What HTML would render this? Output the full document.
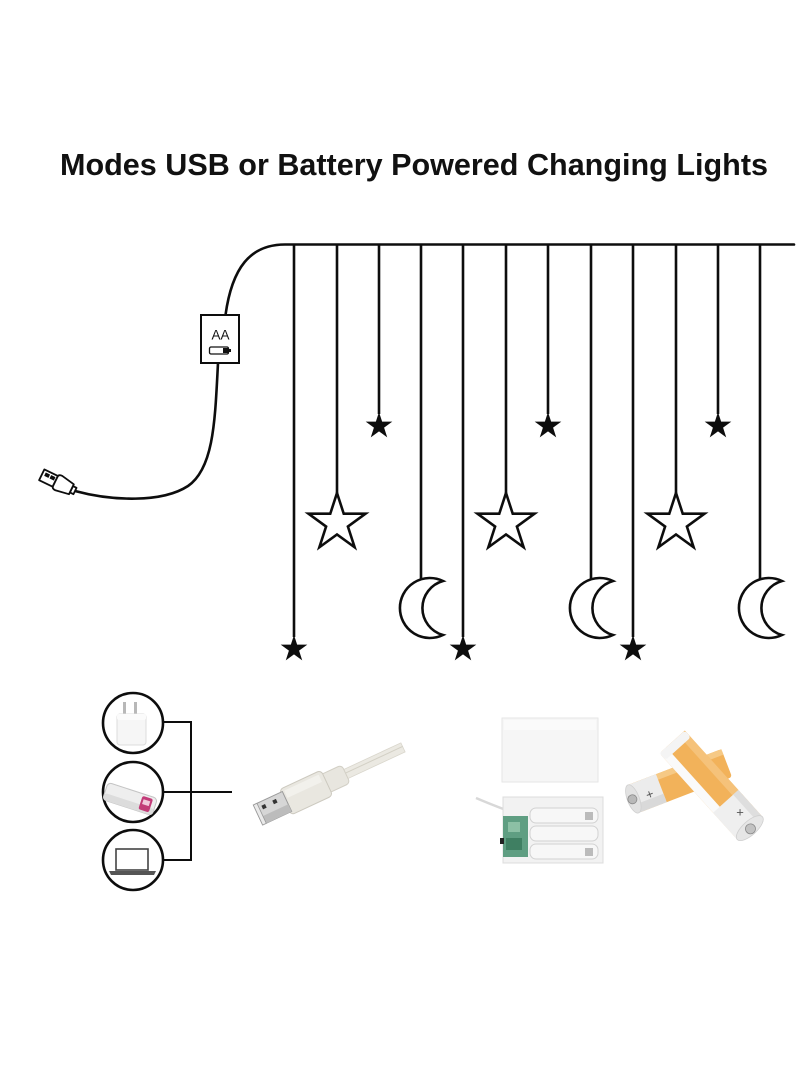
<!DOCTYPE html>
<html>
<head>
<meta charset="utf-8">
<style>
  html,body{margin:0;padding:0;background:#fff;}
  svg{display:block;}
</style>
</head>
<body>
<svg width="800" height="1091" viewBox="0 0 800 1091" xmlns="http://www.w3.org/2000/svg">
  <rect width="800" height="1091" fill="#fff"/>

  <!-- Title -->
  <text x="60" y="175" font-family="'Liberation Sans', sans-serif" font-weight="bold" font-size="31" fill="#111" textLength="708" lengthAdjust="spacingAndGlyphs">Modes USB or Battery Powered Changing Lights</text>

  <!-- Main wire -->
  <g fill="none" stroke="#0d0d0d" stroke-width="2.6" stroke-linecap="round">
    <path d="M794 244.5 L285 244.5 C250 244.5 232 268 225.5 315"/>
    <path d="M218 363 C215 420 214 468 188 486 C162 503 112 501 75 491"/>
  </g>

  <!-- AA box -->
  <rect x="201" y="315" width="38" height="48" fill="#fff" stroke="#0d0d0d" stroke-width="2"/>
  <text x="220.5" y="339.5" text-anchor="middle" font-family="'Liberation Sans', sans-serif" font-size="13.5" fill="#111">AA</text>
  <rect x="209.5" y="347" width="19" height="7" rx="1.5" fill="#fff" stroke="#111" stroke-width="1.3"/>
  <rect x="223" y="348" width="5" height="5" fill="#111"/>
  <rect x="228.5" y="349" width="2.5" height="3" fill="#111"/>

  <!-- USB plug icon at wire end -->
  <g transform="rotate(26 75 491)" fill="#fff" stroke="#0d0d0d" stroke-width="1.8" stroke-linejoin="round">
    <rect x="71" y="487.5" width="4" height="7"/>
    <path d="M71 485.5 L57 483 Q53 483 53 486 L53 496 Q53 499 57 499 L71 496.5 Z"/>
    <rect x="38" y="485" width="15" height="12"/>
    <rect x="41" y="487.5" width="4" height="3" fill="#0d0d0d" stroke-width="0.8"/>
    <rect x="47" y="487.5" width="4" height="3" fill="#0d0d0d" stroke-width="0.8"/>
  </g>

  <!-- Hanging strings -->
  <g stroke="#0d0d0d" stroke-width="2.6" fill="none">
    <line x1="294" y1="244" x2="294" y2="637"/>
    <line x1="337" y1="244" x2="337" y2="494"/>
    <line x1="379" y1="244" x2="379" y2="414"/>
    <line x1="421" y1="244" x2="421" y2="580"/>
    <line x1="463" y1="244" x2="463" y2="637"/>
    <line x1="506" y1="244" x2="506" y2="494"/>
    <line x1="548" y1="244" x2="548" y2="414"/>
    <line x1="591" y1="244" x2="591" y2="580"/>
    <line x1="633" y1="244" x2="633" y2="637"/>
    <line x1="676" y1="244" x2="676" y2="494"/>
    <line x1="718" y1="244" x2="718" y2="414"/>
    <line x1="760" y1="244" x2="760" y2="580"/>
  </g>

  <!-- Filled stars (small) -->
  <g fill="#0d0d0d">
    <polygon transform="translate(294 649)" points="0,-14 3.14,-4.33 13.31,-4.33 5.09,1.65 8.23,11.33 0,5.35 -8.23,11.33 -5.09,1.65 -13.31,-4.33 -3.14,-4.33"/>
    <polygon transform="translate(463 649)" points="0,-14 3.14,-4.33 13.31,-4.33 5.09,1.65 8.23,11.33 0,5.35 -8.23,11.33 -5.09,1.65 -13.31,-4.33 -3.14,-4.33"/>
    <polygon transform="translate(633 649)" points="0,-14 3.14,-4.33 13.31,-4.33 5.09,1.65 8.23,11.33 0,5.35 -8.23,11.33 -5.09,1.65 -13.31,-4.33 -3.14,-4.33"/>
    <polygon transform="translate(379 426)" points="0,-14 3.14,-4.33 13.31,-4.33 5.09,1.65 8.23,11.33 0,5.35 -8.23,11.33 -5.09,1.65 -13.31,-4.33 -3.14,-4.33"/>
    <polygon transform="translate(548 426)" points="0,-14 3.14,-4.33 13.31,-4.33 5.09,1.65 8.23,11.33 0,5.35 -8.23,11.33 -5.09,1.65 -13.31,-4.33 -3.14,-4.33"/>
    <polygon transform="translate(718 426)" points="0,-14 3.14,-4.33 13.31,-4.33 5.09,1.65 8.23,11.33 0,5.35 -8.23,11.33 -5.09,1.65 -13.31,-4.33 -3.14,-4.33"/>
  </g>

  <!-- Outline stars -->
  <g fill="#fff" stroke="#0d0d0d" stroke-width="2.6" stroke-linejoin="miter">
    <polygon transform="translate(337 523)" points="0,-30 6.74,-9.27 28.53,-9.27 10.9,3.54 17.63,24.27 0,11.46 -17.63,24.27 -10.9,3.54 -28.53,-9.27 -6.74,-9.27"/>
    <polygon transform="translate(506 523)" points="0,-30 6.74,-9.27 28.53,-9.27 10.9,3.54 17.63,24.27 0,11.46 -17.63,24.27 -10.9,3.54 -28.53,-9.27 -6.74,-9.27"/>
    <polygon transform="translate(676 523)" points="0,-30 6.74,-9.27 28.53,-9.27 10.9,3.54 17.63,24.27 0,11.46 -17.63,24.27 -10.9,3.54 -28.53,-9.27 -6.74,-9.27"/>
  </g>

  <!-- Moons -->
  <g fill="#fff" stroke="#0d0d0d" stroke-width="2.6" stroke-linejoin="miter">
    <path d="M443 581 A30 30 0 1 0 443 635 A28 28 0 0 1 443 581 Z"/>
    <path d="M613 581 A30 30 0 1 0 613 635 A28 28 0 0 1 613 581 Z"/>
    <path d="M782 581 A30 30 0 1 0 782 635 A28 28 0 0 1 782 581 Z"/>
  </g>

  <!-- Bottom left: power sources -->
  <g fill="none" stroke="#0d0d0d" stroke-width="2.6">
    <circle cx="133" cy="723" r="30"/>
    <circle cx="133" cy="792" r="30"/>
    <circle cx="133" cy="860" r="30"/>
    <polyline points="163,722 191,722 191,860 163,860" stroke-width="2"/>
    <line x1="163" y1="792" x2="232" y2="792" stroke-width="2"/>
  </g>

  <!-- Plug cube icon -->
  <rect x="123" y="702" width="3" height="14" fill="#b8b8b8"/>
  <rect x="134" y="702" width="3" height="14" fill="#b8b8b8"/>
  <rect x="117" y="714" width="29" height="31" rx="3" fill="#f6f6f6" stroke="#dcdcdc" stroke-width="1"/>
  <rect x="117" y="714" width="29" height="6" rx="2" fill="#fbfbfb"/>

  <!-- Power bank icon -->
  <g transform="translate(130 799) rotate(18)">
    <rect x="-26" y="-9" width="52" height="18" rx="4" fill="#eeeeee" stroke="#c4c4c4" stroke-width="1"/>
    <rect x="-26" y="2" width="52" height="7" rx="3" fill="#dcdcdc"/>
    <rect x="11" y="-7" width="11" height="14" rx="2" fill="#c23b78"/>
    <rect x="13" y="-4" width="7" height="5" fill="#f1c8dc"/>
  </g>

  <!-- Laptop icon -->
  <rect x="116" y="849" width="32" height="21" fill="#fff" stroke="#444" stroke-width="1.6"/>
  <path d="M109 871 L156 871 L154 875 L111 875 Z" fill="#555"/>

  <!-- USB cable photo -->
  <g transform="translate(258 815) rotate(-25)">
    <rect x="95" y="-5" width="65" height="10" fill="#ebe9e2" stroke="#d9d6cc" stroke-width="0.8"/>
    <line x1="95" y1="-1" x2="160" y2="-1" stroke="#d3d0c5" stroke-width="1"/>
    <rect x="72" y="-10" width="25" height="20" rx="4" fill="#e8e6df" stroke="#d2cfc5" stroke-width="1"/>
    <rect x="30" y="-14" width="46" height="28" rx="4" fill="#e9e7e0" stroke="#ccc9bf" stroke-width="1"/>
    <rect x="34" y="-11" width="38" height="8" fill="#f2f1ec"/>
    <rect x="0" y="-11" width="32" height="22" fill="#d6d6d6" stroke="#9a9a9a" stroke-width="1"/>
    <rect x="0" y="3" width="32" height="8" fill="#bcbcbc"/>
    <rect x="7" y="-7" width="4" height="4" fill="#333"/>
    <rect x="19" y="-7" width="4" height="4" fill="#333"/>
    <rect x="0" y="-11" width="4" height="22" fill="#eaeaea" stroke="#9a9a9a" stroke-width="0.8"/>
  </g>

  <!-- Battery box: lid -->
  <rect x="502" y="718" width="96" height="64" fill="#f6f6f6" stroke="#e6e6e6" stroke-width="1"/>
  <rect x="504" y="720" width="92" height="10" fill="#fafafa"/>
  <!-- Battery box: base -->
  <path d="M476 798 Q490 804 506 810" fill="none" stroke="#d8d8d8" stroke-width="2.5"/>
  <rect x="503" y="797" width="100" height="66" fill="#f2f2f2" stroke="#dcdcdc" stroke-width="1"/>
  <g stroke="#d2d2d2" stroke-width="1" fill="#f7f7f7">
    <rect x="530" y="808" width="68" height="15" rx="6"/>
    <rect x="530" y="826" width="68" height="15" rx="6"/>
    <rect x="530" y="844" width="68" height="15" rx="6"/>
  </g>
  <rect x="503" y="816" width="25" height="41" fill="#5f9e82"/>
  <rect x="508" y="822" width="12" height="10" fill="#8cc0a5"/>
  <rect x="506" y="838" width="16" height="12" fill="#3f7f62"/>
  <rect x="500" y="838" width="4" height="6" fill="#222"/>
  <rect x="585" y="812" width="8" height="8" fill="#bbb"/>
  <rect x="585" y="848" width="8" height="8" fill="#bbb"/>

  <!-- AA batteries photo -->
  <!-- back battery -->
  <g transform="translate(680 781) rotate(-21)">
    <rect x="-50" y="-15" width="100" height="30" rx="3" fill="#f2b25a"/>
    <rect x="-50" y="-15" width="100" height="6" fill="#f6c985"/>
    <rect x="-50" y="-15" width="30" height="30" fill="#ececec"/>
    <rect x="-50" y="6" width="30" height="9" fill="#d9d9d9"/>
    <ellipse cx="-50" cy="0" rx="6" ry="15" fill="#e2e2e2" stroke="#cfcfcf" stroke-width="0.8"/>
    <circle cx="-51" cy="0" r="4.5" fill="#b9b9b9" stroke="#888" stroke-width="0.8"/>
    <text x="-33" y="6" font-family="'Liberation Sans', sans-serif" font-size="13" fill="#555" text-anchor="middle">+</text>
  </g>
  <!-- front battery -->
  <g transform="translate(711 785) rotate(48)">
    <rect x="-58" y="-17" width="116" height="34" rx="3" fill="#f2b25a"/>
    <rect x="-58" y="-17" width="116" height="8" fill="#f5c27a"/>
    <rect x="-58" y="8" width="116" height="9" fill="#fafafa"/>
    <rect x="-58" y="-17" width="9" height="34" rx="3" fill="#f4f4f4"/>
    <rect x="22" y="-17" width="36" height="34" fill="#efefef"/>
    <rect x="22" y="-17" width="36" height="7" fill="#dedede"/>
    <ellipse cx="58" cy="0" rx="7" ry="17" fill="#e6e6e6" stroke="#cfcfcf" stroke-width="0.8"/>
    <circle cx="59" cy="0" r="5" fill="#c2c2c2" stroke="#888" stroke-width="0.8"/>
    <text x="40" y="1" font-family="'Liberation Sans', sans-serif" font-size="13" fill="#555" text-anchor="middle" transform="rotate(-48 40 -3)">+</text>
  </g>
</svg>
</body>
</html>
